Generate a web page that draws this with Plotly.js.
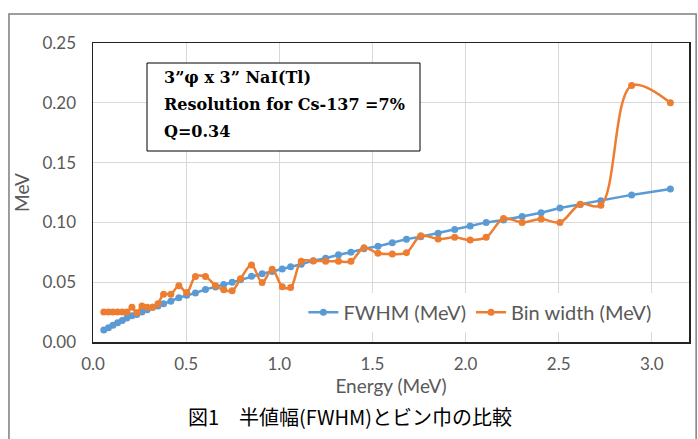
<!DOCTYPE html>
<html>
<head>
<meta charset="utf-8">
<script src="https://cdn.plot.ly/plotly-3.0.1.min.js"></script>
<style>
html,body{margin:0;padding:0;background:#fff;}
#chart{width:698px;height:439px;}
</style>
</head>
<body>
<div id="chart"></div>
<script>
// Energy (MeV) at bin centres
const energy = [0.058,0.083,0.107,0.132,0.157,0.182,0.209,0.235,0.263,0.291,0.320,0.349,0.379,0.418,0.461,0.503,0.550,0.604,0.658,0.702,0.747,0.792,0.851,0.908,0.962,1.016,1.061,1.118,1.183,1.249,1.318,1.385,1.455,1.530,1.607,1.683,1.760,1.853,1.942,2.025,2.111,2.204,2.304,2.406,2.507,2.616,2.727,2.892,3.100];
// FWHM (MeV)
const fwhm = [0.010,0.012,0.014,0.016,0.018,0.020,0.022,0.023,0.025,0.027,0.029,0.030,0.032,0.034,0.037,0.039,0.041,0.044,0.046,0.048,0.050,0.052,0.055,0.057,0.059,0.061,0.063,0.065,0.068,0.070,0.073,0.075,0.078,0.080,0.083,0.086,0.088,0.091,0.094,0.097,0.100,0.102,0.105,0.108,0.112,0.115,0.118,0.123,0.128];
// Bin width (MeV)
const binWidth = [0.025,0.025,0.025,0.025,0.025,0.025,0.029,0.0245,0.030,0.029,0.029,0.032,0.040,0.040,0.047,0.0413,0.0547,0.0547,0.047,0.0436,0.0428,0.0528,0.0644,0.0497,0.0608,0.0463,0.0455,0.0675,0.0678,0.0675,0.0675,0.0675,0.0788,0.0742,0.0735,0.0747,0.0888,0.0861,0.0875,0.0853,0.0875,0.1033,0.100,0.1028,0.100,0.1152,0.1144,0.2144,0.200];

const seriesNames = ["FWHM (MeV)", "Bin width (MeV)"];
const infoLines = ["3”\u03C6 x 3” NaI(Tl)", "Resolution for Cs-137 =7%", "Q=0.34"];
const captionText = "図1\u3000半値幅(FWHM)とビン巾の比較";

const blue = "#5B9BD5", orange = "#ED7D31";
const sans = "Lato, 'Open Sans', sans-serif";
const grey = "#595959";

const traces = [
  {x: energy, y: fwhm, name: seriesNames[0], type: "scatter", mode: "lines+markers",
   line: {color: blue, width: 2.5}, marker: {color: blue, size: 7}},
  {x: energy, y: binWidth, name: seriesNames[1], type: "scatter", mode: "lines+markers",
   line: {color: orange, width: 2.5, shape: "spline", smoothing: 1}, marker: {color: orange, size: 7}}
];

const layout = {
  width: 698, height: 439,
  margin: {l: 93, r: 9, t: 43, b: 97},
  paper_bgcolor: "#fff", plot_bgcolor: "#fff",
  showlegend: true,
  legend: {orientation: "h", x: 0.353, y: 0.165, xanchor: "left", yanchor: "top",
           bgcolor: "#fff", font: {family: sans, size: 20, color: grey},
           itemwidth: 30, traceorder: "normal"},
  xaxis: {range: [0, 3.2], dtick: 0.5, tick0: 0, tickformat: ".1f",
          showgrid: true, gridcolor: "#d9d9d9", gridwidth: 1,
          showline: true, linecolor: "#222", linewidth: 1.5, mirror: true,
          zeroline: false, ticks: "", ticklabelstandoff: 6, tickfont: {family: sans, size: 17, color: grey},
          title: {text: "Energy (MeV)", font: {family: sans, size: 19, color: grey}, standoff: 1}},
  yaxis: {range: [0, 0.25], dtick: 0.05, tick0: 0, tickformat: ".2f",
          showgrid: true, gridcolor: "#d9d9d9", gridwidth: 1,
          showline: true, linecolor: "#222", linewidth: 1.5, mirror: true,
          zeroline: false, ticks: "", ticklabelstandoff: 12, tickfont: {family: sans, size: 17, color: grey},
          title: {text: "MeV", font: {family: sans, size: 19, color: grey}, standoff: 8}},
  shapes: [
    {type: "rect", xref: "paper", yref: "paper", x0: -0.141, x1: 1.012, y0: -0.4, y1: 1.097,
     line: {color: "#7f7f7f", width: 1.5}, layer: "below"},
    {type: "rect", xref: "paper", yref: "paper", x0: (147 - 93) / 596, x1: (420 - 93) / 596,
     y0: (342 - 151) / 299, y1: (342 - 63) / 299, line: {color: "#000", width: 1}, fillcolor: "#fff"}
  ],
  annotations: [
    {xref: "paper", yref: "paper", x: (162 - 93) / 596, y: (342 - 77) / 299, xanchor: "left", yanchor: "middle",
     showarrow: false, text: "<b>" + infoLines[0] + "</b>", font: {family: "'DejaVu Serif', serif", size: 16, color: "#000"}},
    {xref: "paper", yref: "paper", x: (162 - 93) / 596, y: (342 - 104) / 299, xanchor: "left", yanchor: "middle",
     showarrow: false, text: "<b>" + infoLines[1] + "</b>", font: {family: "'DejaVu Serif', serif", size: 16, color: "#000"}},
    {xref: "paper", yref: "paper", x: (162 - 93) / 596, y: (342 - 131) / 299, xanchor: "left", yanchor: "middle",
     showarrow: false, text: "<b>" + infoLines[2] + "</b>", font: {family: "'DejaVu Serif', serif", size: 16, color: "#000"}},
    {xref: "paper", yref: "paper", x: (350 - 93) / 596, y: (342 - 416) / 299, xanchor: "center", yanchor: "middle",
     showarrow: false, text: captionText, font: {family: "'Noto Sans CJK JP', sans-serif", size: 20, color: "#000"}}
  ]
};

Plotly.newPlot("chart", traces, layout, {displayModeBar: false, staticPlot: true});
</script>
</body>
</html>
